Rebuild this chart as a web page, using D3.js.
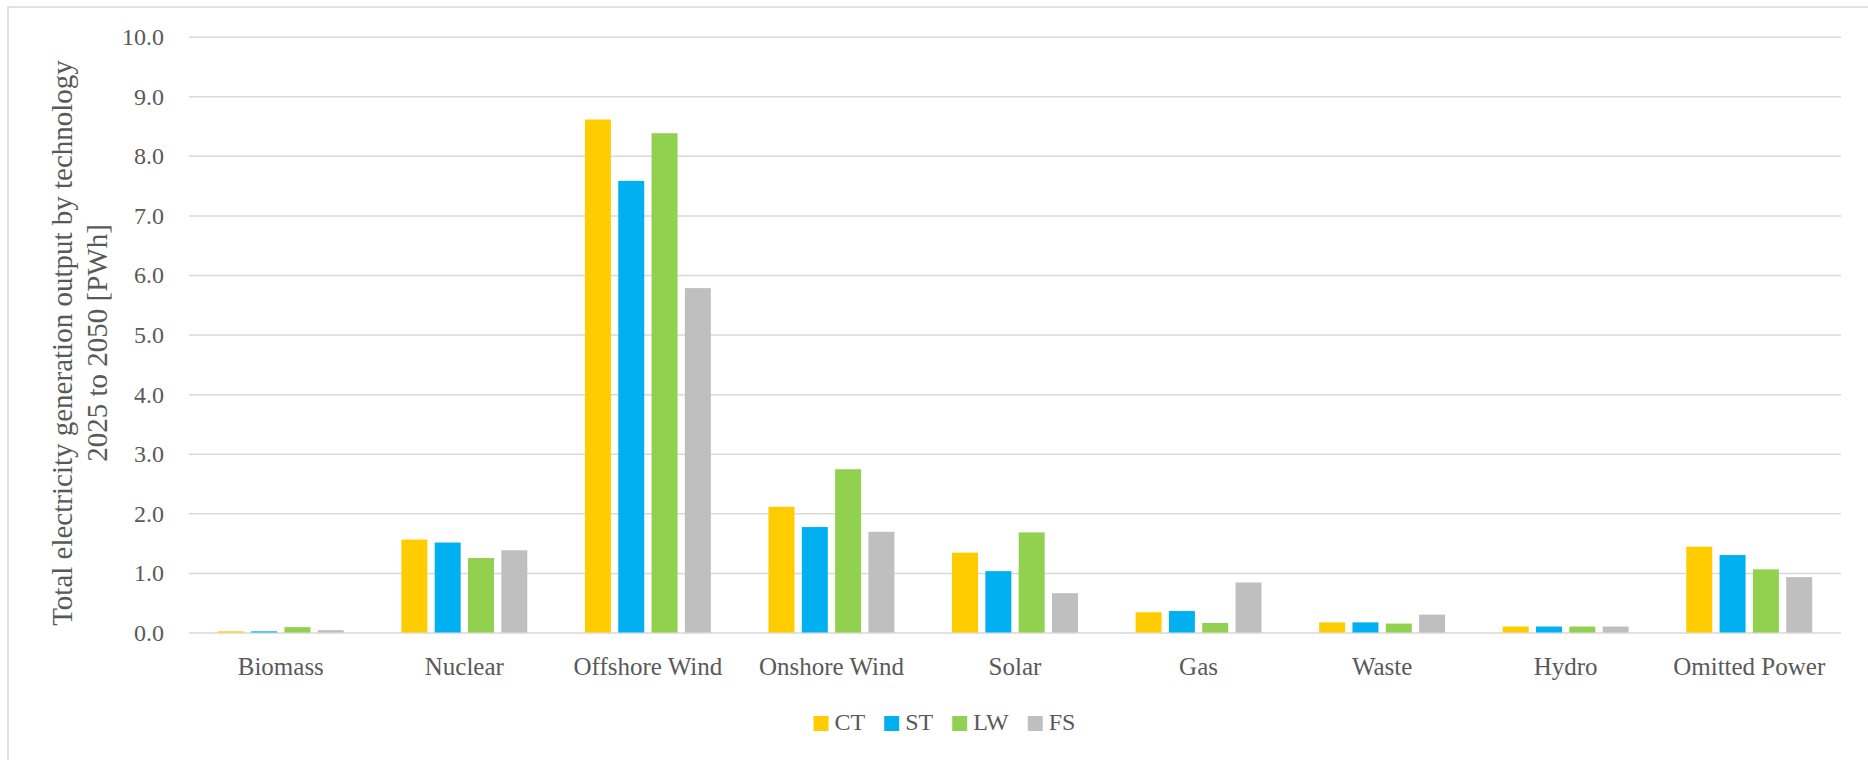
<!DOCTYPE html>
<html>
<head>
<meta charset="utf-8">
<script src="https://cdn.jsdelivr.net/npm/d3@7"></script>
<style>
  html, body { margin: 0; padding: 0; background: #ffffff; }
  svg { display: block; }
  text { font-family: "Liberation Serif", "Times New Roman", serif; fill: #595959; }
</style>
</head>
<body>
<svg id="chart" width="1868" height="760"></svg>
<script>
// Total electricity generation output by technology, 2025 to 2050 [PWh]
const categories = ["Biomass", "Nuclear", "Offshore Wind", "Onshore Wind", "Solar", "Gas", "Waste", "Hydro", "Omitted Power"];
const seriesNames = ["CT", "ST", "LW", "FS"];
const seriesColors = ["#FFCC00", "#00B0F0", "#92D050", "#BFBFBF"];
const valuesCT = [0.02, 1.56, 8.61, 2.11, 1.34, 0.34, 0.17, 0.10, 1.44];
const valuesST = [0.02, 1.51, 7.58, 1.77, 1.03, 0.36, 0.17, 0.10, 1.30];
const valuesLW = [0.09, 1.25, 8.38, 2.74, 1.68, 0.16, 0.15, 0.10, 1.06];
const valuesFS = [0.04, 1.38, 5.78, 1.69, 0.66, 0.84, 0.30, 0.10, 0.93];
const yTicks = [0, 1, 2, 3, 4, 5, 6, 7, 8, 9, 10];
const yTitleLines = ["Total electricity generation output by technology", "2025 to 2050 [PWh]"];

const seriesValues = [valuesCT, valuesST, valuesLW, valuesFS];

const svg = d3.select("#chart");
const plot = { left: 189, right: 1841, top: 36.7, bottom: 632.5 };

// chart frame (left and top edges visible)
svg.append("rect")
  .attr("x", 8).attr("y", 7)
  .attr("width", 1900).attr("height", 800)
  .attr("fill", "none")
  .attr("stroke", "#d9d9d9")
  .attr("stroke-width", 1.5);

const y = d3.scaleLinear().domain([0, 10]).range([plot.bottom, plot.top]);

const x0 = d3.scaleBand()
  .domain(categories)
  .range([plot.left, plot.right])
  .paddingInner(0.274)
  .paddingOuter(0.137);

const x1 = d3.scaleBand()
  .domain(seriesNames)
  .range([0, x0.bandwidth()])
  .paddingInner(0.22)
  .paddingOuter(0.11);

// horizontal gridlines and tick labels
const yAxis = d3.axisLeft(y)
  .tickValues(yTicks)
  .tickSize(-(plot.right - plot.left))
  .tickPadding(25)
  .tickFormat(d3.format(".1f"));

const gy = svg.append("g")
  .attr("transform", `translate(${plot.left},0)`)
  .call(yAxis);
gy.select(".domain").remove();
gy.selectAll(".tick line")
  .attr("stroke", "#d9d9d9")
  .attr("stroke-width", 1.5);
gy.selectAll(".tick text")
  .attr("font-size", 24)
  .attr("fill", "#595959")
  .attr("dy", "0.33em");

// bars
const groups = svg.append("g")
  .selectAll("g")
  .data(categories)
  .join("g")
  .attr("transform", d => `translate(${x0(d)},0)`);

groups.selectAll("rect")
  .data((d, i) => seriesNames.map((s, j) => ({ series: s, value: seriesValues[j][i], color: seriesColors[j] })))
  .join("rect")
  .attr("x", d => x1(d.series))
  .attr("width", x1.bandwidth())
  .attr("y", d => y(d.value))
  .attr("height", d => y(0) - y(d.value))
  .attr("fill", d => d.color);

// category labels
const xAxis = d3.axisBottom(x0).tickSize(0).tickPadding(0);
const gx = svg.append("g")
  .attr("transform", `translate(0,${plot.bottom})`)
  .call(xAxis);
gx.select(".domain").remove();
gx.selectAll(".tick text")
  .attr("font-size", 25)
  .attr("fill", "#595959")
  .attr("y", 42)
  .attr("dy", 0);

// y-axis title
const title = svg.append("text")
  .attr("transform", "translate(0,343) rotate(-90)")
  .attr("text-anchor", "middle")
  .attr("font-size", 29);
title.selectAll("tspan")
  .data(yTitleLines)
  .join("tspan")
  .attr("x", 0)
  .attr("y", (d, i) => 71.5 + i * 35)
  .text(d => d);

// legend
const legend = svg.append("g");
const items = legend.selectAll("g")
  .data(seriesNames)
  .join("g");
items.append("rect")
  .attr("width", 15).attr("height", 15)
  .attr("y", 716)
  .attr("fill", (d, i) => seriesColors[i]);
items.append("text")
  .attr("x", 21)
  .attr("y", 730)
  .attr("font-size", 24)
  .text(d => d);

let cursor = 0;
const widths = [];
items.each(function () {
  const w = 21 + d3.select(this).select("text").node().getComputedTextLength();
  widths.push(w);
});
const gap = 19;
const total = d3.sum(widths) + gap * (widths.length - 1);
const start = 944.5 - total / 2;
items.attr("transform", (d, i) => {
  const off = start + cursor;
  cursor += widths[i] + gap;
  return `translate(${off},0)`;
});
</script>
</body>
</html>
